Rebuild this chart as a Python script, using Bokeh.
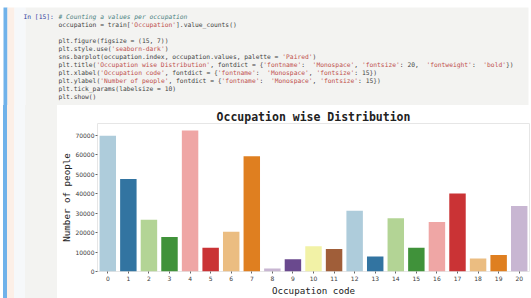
import re
import colorsys
from bokeh.plotting import figure
from bokeh.layouts import column, row
from bokeh.models import (Range1d, FactorRange, FixedTicker, NumeralTickFormatter,
                          ColumnDataSource, Div)
from bokeh.core.properties import value
from bokeh.palettes import Paired
from bokeh.embed import file_html
from bokeh.resources import INLINE

# ---------------- data ----------------
occupation_codes = [str(i) for i in range(21)]
people_counts = [69638, 47426, 26588, 17650, 72308, 12177, 20355, 59133, 1546, 6291,
                 12930, 11586, 31179, 7728, 27309, 12165, 25371, 40043, 6622, 8461, 33562]
y_ticks = [0, 10000, 20000, 30000, 40000, 50000, 60000, 70000]
title_text = "Occupation wise Distribution"
x_label_text = "Occupation code"
y_label_text = "Number of people"
prompt_text = "In [15]:"
code_lines = [
    "# Counting a values per occupation",
    "occupation = train['Occupation'].value_counts()",
    "",
    "plt.figure(figsize = (15, 7))",
    "plt.style.use('seaborn-dark')",
    "sns.barplot(occupation.index, occupation.values, palette = 'Paired')",
    "plt.title('Occupation wise Distribution', fontdict = {'fontname' : 'Monospace', 'fontsize' : 20, 'fontweight' : 'bold'})",
    "plt.xlabel('Occupation code', fontdict = {'fontname' : 'Monospace', 'fontsize' : 15})",
    "plt.ylabel('Number of people', fontdict = {'fontname' : 'Monospace', 'fontsize' : 15})",
    "plt.tick_params(labelsize = 10)",
    "plt.show()",
]

# ---------------- styles / layout ----------------
MONO = "DejaVu Sans Mono"
CODE_SIZE = 6.3
ADV = 0.602 * CODE_SIZE
BLUE = "#70b2ea"
PEACH = "#fcefe7"
LIGHT = "#f6f8fa"
CELL = "#f3f3f1"
PAGE_W, PAGE_H = 531, 298
CELL_BOTTOM = 105
SIDE_W = 57
FRAME_L, FRAME_R, FRAME_T, FRAME_B = 97, 529, 123, 273


def desaturate(hexc, prop=0.75):
    r, g, b = [int(hexc[i:i + 2], 16) / 255 for i in (1, 3, 5)]
    h, l, s = colorsys.rgb_to_hls(r, g, b)
    r, g, b = colorsys.hls_to_rgb(h, l, s * prop)
    return "#%02x%02x%02x" % tuple(int(round(c * 255)) for c in (r, g, b))


bar_colors = [desaturate(Paired[12][i % 12]) for i in range(len(occupation_codes))]

# ---------------- top: code cell ----------------
top = figure(width=PAGE_W, height=CELL_BOTTOM, x_range=Range1d(0, PAGE_W),
             y_range=Range1d(CELL_BOTTOM, 0),
             x_axis_type=None, y_axis_type=None, min_border=0,
             toolbar_location=None, output_backend="svg")
top.grid.visible = False
top.outline_line_color = None
top.background_fill_color = "white"
top.border_fill_color = "white"
top.quad(left=[3, 7, 14, 25], right=[7, 14, 25, 528], top=[7, 7, 7, 7],
         bottom=[CELL_BOTTOM] * 4, fill_color=[BLUE, PEACH, LIGHT, CELL], line_color=None)

xs, ys, txts, cols, styles = [], [], [], [], []
for i, line in enumerate(code_lines):
    y = 16 + 8 * i
    if line.startswith("#"):
        xs.append(58); ys.append(y); txts.append(line); cols.append("#4a7f7f"); styles.append("italic")
        continue
    for m in re.finditer(r"'[^']*'|[^']+", line):
        seg = m.group(0)
        xs.append(58 + m.start() * ADV); ys.append(y); txts.append(seg)
        cols.append("#c0504d" if seg.startswith("'") else "#444444")
        styles.append("normal")
top.text(x=xs, y=ys, text=txts, text_color=cols, text_font_style=styles,
         text_font=value(MONO), text_font_size=f"{CODE_SIZE}px",
         text_baseline="middle", text_align="left")
top.text(x=[23], y=[16], text=[prompt_text], text_color="#303f9f",
         text_font=value(MONO), text_font_size=f"{CODE_SIZE}px",
         text_baseline="middle", text_align="left")

# ---------------- left strip beside the output ----------------
side = Div(text="", width=SIDE_W, height=PAGE_H - CELL_BOTTOM, margin=0,
           styles={"background": (
               f"linear-gradient(90deg, white 0px, white 3px, {BLUE} 3px, {BLUE} 7px, "
               f"{PEACH} 7px, {PEACH} 14px, {LIGHT} 14px, {LIGHT} 25px, "
               f"{CELL} 25px, {CELL} {SIDE_W}px)")})

# ---------------- chart ----------------
src = ColumnDataSource(dict(code=occupation_codes, count=people_counts, color=bar_colors))
chart = figure(width=PAGE_W - SIDE_W, height=PAGE_H - CELL_BOTTOM,
               x_range=FactorRange(factors=occupation_codes),
               y_range=Range1d(0, max(people_counts) * 1.05),
               min_border_left=FRAME_L - SIDE_W, min_border_right=PAGE_W - FRAME_R,
               min_border_top=FRAME_T - CELL_BOTTOM, min_border_bottom=PAGE_H - FRAME_B,
               toolbar_location=None, output_backend="svg", title=title_text)
chart.vbar(x="code", top="count", width=0.8, source=src, fill_color="color", line_color=None)

chart.background_fill_color = "white"
chart.border_fill_color = "white"
chart.outline_line_color = "#e6e6e6"
chart.grid.visible = False

chart.title.align = "center"
chart.title.text_font = MONO
chart.title.text_font_size = "11.5px"
chart.title.text_font_style = "bold"
chart.title.text_color = "#222222"
chart.title.standoff = 0
chart.title.offset = 0

for ax in (chart.xaxis[0], chart.yaxis[0]):
    ax.axis_line_color = None
    ax.major_tick_out = 2
    ax.major_tick_in = 0
    ax.minor_tick_out = 0
    ax.minor_tick_in = 0
    ax.major_tick_line_color = "#666666"
    ax.major_label_text_font = "DejaVu Sans"
    ax.major_label_text_font_size = "6px"
    ax.major_label_text_color = "#3a3a3a"
    ax.axis_label_text_font = MONO
    ax.axis_label_text_font_size = "9.2px"
    ax.axis_label_text_font_style = "normal"
    ax.axis_label_text_color = "#222222"

chart.xaxis.major_label_standoff = 2
chart.xaxis.axis_label_standoff = 1
chart.yaxis.major_label_standoff = 1
chart.yaxis.axis_label_standoff = 0
chart.xaxis.axis_label = x_label_text
chart.yaxis.axis_label = y_label_text
chart.yaxis.ticker = FixedTicker(ticks=y_ticks)
chart.yaxis.formatter = NumeralTickFormatter(format="0")

layout = column(top, row(side, chart))

open("out.html", "w").write(file_html(layout, INLINE))
